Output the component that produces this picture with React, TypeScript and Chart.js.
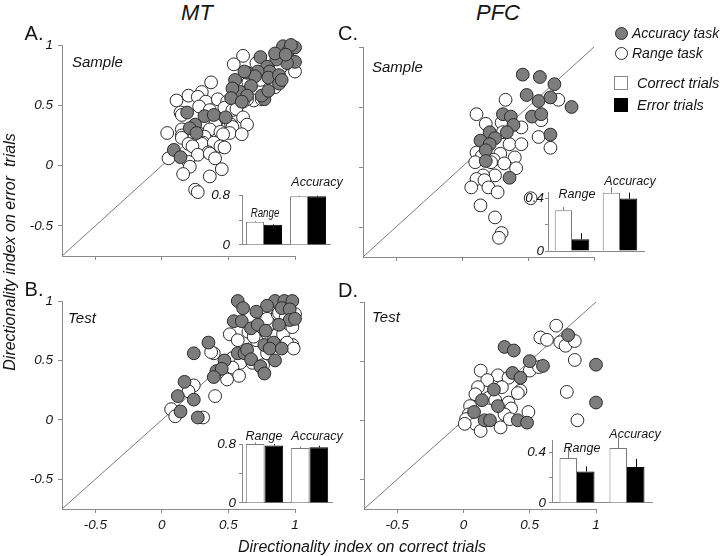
import React, { useEffect, useRef } from "react";
import { Chart, registerables } from "chart.js";

Chart.register(...registerables);

type Pt = [number, number];

// ---------- data ----------
const AXIS_TICKS = [-0.5, 0, 0.5, 1];
const DIAGONAL: Pt[] = [[-0.75, -0.75], [1, 1]];

const A_ACCURACY: Pt[] = [
  [0.74, 0.9], [0.91, 0.99], [0.95, 0.95], [1.0, 0.98], [1.0, 0.86], [0.94, 0.85], [0.86, 0.88],
  [0.79, 0.82], [0.81, 0.78], [0.72, 0.78], [0.64, 0.77], [0.7, 0.74], [0.8, 0.73], [0.88, 0.75],
  [0.88, 0.68], [0.55, 0.71], [0.59, 0.61], [0.53, 0.64], [0.67, 0.66], [0.64, 0.58], [0.52, 0.56],
  [0.6, 0.53], [0.77, 0.55], [0.75, 0.58], [0.8, 0.62], [0.9, 0.71], [0.85, 0.93], [0.97, 1.0],
  [0.93, 0.92], [0.62, 0.78], [0.19, 0.44], [0.32, 0.41], [0.39, 0.42], [0.48, 0.4], [0.25, 0.34],
  [0.21, 0.31], [0.26, 0.27], [0.09, 0.13], [0.14, 0.07],
];
const A_RANGE: Pt[] = [
  [0.61, 0.91], [0.54, 0.84], [0.71, 0.85], [0.91, 0.83], [0.89, 0.81], [1.0, 0.78], [0.74, 0.71],
  [0.65, 0.69], [0.85, 0.65], [0.69, 0.54], [0.75, 0.55], [0.64, 0.55], [0.56, 0.49], [0.37, 0.69],
  [0.3, 0.61], [0.2, 0.58], [0.11, 0.54], [0.27, 0.57], [0.33, 0.53], [0.42, 0.55], [0.49, 0.53],
  [0.61, 0.53], [0.28, 0.49], [0.47, 0.48], [0.53, 0.46], [0.36, 0.46], [0.56, 0.47], [0.14, 0.44],
  [0.15, 0.42], [0.61, 0.4], [0.32, 0.36], [0.41, 0.36], [0.4, 0.34], [0.52, 0.34], [0.53, 0.32],
  [0.64, 0.34], [0.15, 0.3], [0.36, 0.3], [0.44, 0.28], [0.51, 0.27], [0.6, 0.26], [0.04, 0.27],
  [0.15, 0.25], [0.15, 0.23], [0.32, 0.24], [0.46, 0.26], [0.31, 0.19], [0.2, 0.18], [0.3, 0.18],
  [0.39, 0.19], [0.23, 0.16], [0.44, 0.16], [0.47, 0.15], [0.35, 0.11], [0.27, 0.09], [0.36, 0.1],
  [0.4, 0.06], [0.05, 0.06], [0.2, 0.03], [0.21, -0.01], [0.16, -0.07], [0.36, -0.09], [0.45, -0.03],
  [0.25, -0.2], [0.27, -0.22],
];

const B_ACCURACY: Pt[] = [
  [0.57, 1.0], [0.61, 0.94], [0.85, 1.0], [0.92, 1.0], [0.98, 1.0], [0.79, 0.96], [0.71, 0.91],
  [0.9, 0.94], [0.96, 0.93], [0.96, 0.84], [1.0, 0.85], [0.54, 0.83], [0.6, 0.83], [0.67, 0.77],
  [0.72, 0.8], [0.78, 0.75], [0.88, 0.8], [0.35, 0.65], [0.24, 0.56], [0.57, 0.56], [0.62, 0.56],
  [0.64, 0.59], [0.77, 0.63], [0.84, 0.65], [0.81, 0.6], [0.9, 0.6], [0.67, 0.51], [0.85, 0.5],
  [0.74, 0.45], [0.77, 0.39], [0.47, 0.5], [0.41, 0.41], [0.45, 0.43], [0.39, 0.36], [0.17, 0.32],
  [0.12, 0.2], [0.24, 0.17], [0.14, 0.07], [0.27, 0.02],
];
const B_RANGE: Pt[] = [
  [0.51, 0.72], [0.57, 0.67], [0.39, 0.56], [0.37, 0.57], [0.53, 0.52], [0.59, 0.48], [0.52, 0.42],
  [0.53, 0.44], [0.58, 0.37], [0.49, 0.34], [0.42, 0.4], [0.76, 0.46], [0.68, 0.48], [0.79, 0.56],
  [0.75, 0.7], [0.71, 0.67], [0.7, 0.75], [0.86, 0.71], [0.91, 0.72], [0.81, 0.81], [0.79, 0.85],
  [0.87, 0.89], [1.0, 0.89], [0.95, 0.81], [0.65, 0.74], [0.69, 0.7], [0.98, 0.78], [0.98, 0.63],
  [0.94, 0.65], [0.99, 0.6], [0.96, 0.98], [0.88, 0.9], [0.93, 0.86], [0.24, 0.29], [0.2, 0.24],
  [0.4, 0.2], [0.07, 0.09], [0.1, 0.03], [0.31, 0.02],
];

const C_ACCURACY: Pt[] = [
  [0.46, 0.77], [0.59, 0.75], [0.7, 0.69], [0.49, 0.6], [0.58, 0.55], [0.67, 0.58], [0.83, 0.5],
  [0.31, 0.44], [0.37, 0.42], [0.53, 0.42], [0.6, 0.44], [0.39, 0.35], [0.34, 0.29], [0.21, 0.29],
  [0.25, 0.24], [0.14, 0.22], [0.21, 0.19], [0.18, 0.14], [0.18, 0.05], [0.67, 0.27], [0.36, -0.09],
];
const C_RANGE: Pt[] = [
  [0.33, 0.56], [0.73, 0.56], [0.11, 0.44], [0.18, 0.36], [0.3, 0.37], [0.45, 0.33], [0.6, 0.39],
  [0.58, 0.25], [0.67, 0.16], [0.31, 0.29], [0.36, 0.19], [0.45, 0.19], [0.29, 0.11], [0.4, 0.08],
  [0.11, 0.12], [0.15, 0.09], [0.24, 0.06], [0.1, 0.04], [0.22, 0.04], [0.32, 0.03], [0.41, -0.01],
  [0.25, -0.07], [0.16, -0.07], [0.11, -0.1], [0.17, -0.11], [0.07, -0.17], [0.2, -0.17],
  [0.27, -0.21], [0.14, -0.32], [0.25, -0.42], [0.3, -0.55], [0.28, -0.59], [0.52, -0.26],
];

const D_ACCURACY: Pt[] = [
  [0.31, 0.62], [0.38, 0.59], [0.79, 0.72], [0.5, 0.5], [0.6, 0.46], [0.37, 0.4], [0.43, 0.36],
  [1.0, 0.47], [0.23, 0.26], [0.14, 0.17], [0.26, 0.12], [1.0, 0.15], [0.08, 0.07], [0.16, 0.0],
  [0.2, 0.0], [0.41, 0.0], [0.48, -0.02],
];
const D_RANGE: Pt[] = [
  [0.7, 0.8], [0.58, 0.7], [0.63, 0.68], [0.73, 0.66], [0.77, 0.63], [0.84, 0.67], [0.84, 0.51],
  [0.78, 0.24], [0.86, 0.0], [0.13, 0.42], [0.26, 0.38], [0.34, 0.36], [0.5, 0.42], [0.57, 0.45],
  [0.18, 0.34], [0.11, 0.28], [0.29, 0.28], [0.43, 0.25], [0.41, 0.23], [0.09, 0.22], [0.19, 0.19],
  [0.24, 0.17], [0.34, 0.15], [0.36, 0.1], [0.05, 0.12], [0.31, 0.05], [0.49, 0.07], [0.04, 0.05],
  [0.02, 0.01], [0.09, -0.03], [0.01, -0.03], [0.13, -0.09], [0.28, -0.06], [0.35, 0.01],
];

const INSET_CATEGORIES = ["Range", "Accuracy"];
const A_CORRECT = [0.37, 0.78];
const A_CORRECT_SEM = [0.015, 0.012];
const A_ERROR = [0.325, 0.78];
const A_ERROR_SEM = [0.012, 0.012];
const A_INSET_TICKS = [0, 0.4, 0.8];
const A_INSET_LABELS = [0, 0.8];

const B_CORRECT = [0.8, 0.745];
const B_CORRECT_SEM = [0.02, 0.02];
const B_ERROR = [0.78, 0.755];
const B_ERROR_SEM = [0.02, 0.02];
const B_INSET_TICKS = [0, 0.4, 0.8];
const B_INSET_LABELS = [0, 0.8];

const C_CORRECT = [0.31, 0.445];
const C_CORRECT_SEM = [0.025, 0.04];
const C_ERROR = [0.09, 0.4];
const C_ERROR_SEM = [0.045, 0.045];
const C_INSET_TICKS = [0, 0.2, 0.4];
const C_INSET_LABELS = [0, 0.4];

const D_CORRECT = [0.357, 0.437];
const D_CORRECT_SEM = [0.09, 0.08];
const D_ERROR = [0.25, 0.285];
const D_ERROR_SEM = [0.04, 0.065];
const D_INSET_TICKS = [0, 0.2, 0.4];
const D_INSET_LABELS = [0, 0.4];

// ---------- styles ----------
const FONT = '"Liberation Sans", Arial, Helvetica, sans-serif';
const AXIS_COLOR = "#8a8a8a";
const TEXT_COLOR = "#151515";
const GRAY_FILL = "#7d7d7d";
const POINT_BORDER = "#2a2a2a";

type Box = { left: number; top: number; width: number; height: number };
type Area = { l: number; r: number; t: number; b: number };

function ScatterPanel(props: {
  box: Box; area: Area; acc: Pt[]; rng: Pt[]; showY: boolean; showX: boolean;
}) {
  const ref = useRef<HTMLCanvasElement>(null);
  useEffect(() => {
    const { box, area, acc, rng, showY, showX } = props;
    const yW = area.l - box.left;
    const xH = showX ? 30 : 6;
    const padTop = area.t - box.top;
    const padRight = box.left + box.width - area.r;
    const padBottom = box.top + box.height - area.b - xH;
    const toXY = (p: Pt) => ({ x: p[0], y: p[1] });
    const tickFont = { family: FONT, size: 13.5, style: "italic" as const };
    const chart = new Chart(ref.current as HTMLCanvasElement, {
      type: "scatter",
      data: {
        datasets: [
          {
            data: DIAGONAL.map(toXY), showLine: true, borderColor: "#7a7a7a", borderWidth: 1,
            pointRadius: 0, order: 3, clip: false as any,
          },
          {
            data: rng.map(toXY), backgroundColor: "#ffffff", borderColor: POINT_BORDER,
            borderWidth: 1, pointRadius: 6.4, order: 2, clip: false as any,
          },
          {
            data: acc.map(toXY), backgroundColor: GRAY_FILL, borderColor: POINT_BORDER,
            borderWidth: 1, pointRadius: 6.4, order: 1, clip: false as any,
          },
        ],
      },
      options: {
        animation: false,
        responsive: false,
        devicePixelRatio: 1,
        events: [],
        layout: { padding: { left: 0, top: padTop, right: padRight, bottom: padBottom } },
        plugins: { legend: { display: false }, tooltip: { enabled: false } },
        scales: {
          x: {
            type: "linear", min: -0.75, max: 1,
            afterBuildTicks: (s: any) => { s.ticks = AXIS_TICKS.map((v) => ({ value: v })); },
            afterFit: (s: any) => { s.height = xH; },
            ticks: { display: showX, font: tickFont, color: TEXT_COLOR, padding: 4, maxRotation: 0, callback: (v: any) => String(v) },
            grid: { display: true, drawOnChartArea: false, drawTicks: true, tickLength: 4, color: AXIS_COLOR },
            border: { display: true, color: AXIS_COLOR, width: 1 },
          },
          y: {
            type: "linear", min: -0.75, max: 1,
            afterBuildTicks: (s: any) => { s.ticks = AXIS_TICKS.map((v) => ({ value: v })); },
            afterFit: (s: any) => { s.width = yW; },
            ticks: { display: showY, font: tickFont, color: TEXT_COLOR, padding: 5, callback: (v: any) => String(v) },
            grid: { display: true, drawOnChartArea: false, drawTicks: true, tickLength: 4, color: AXIS_COLOR },
            border: { display: true, color: AXIS_COLOR, width: 1 },
          },
        },
      } as any,
    });
    return () => chart.destroy();
  }, []);
  const { box } = props;
  return (
    <canvas ref={ref} width={box.width} height={box.height}
      style={{ position: "absolute", left: box.left, top: box.top, width: box.width, height: box.height }} />
  );
}

function InsetBars(props: {
  box: Box; area: Area; correct: number[]; correctSem: number[]; error: number[]; errorSem: number[];
  yMax: number; ticks: number[]; labels: number[]; catPct: number; labelPad: number;
}) {
  const ref = useRef<HTMLCanvasElement>(null);
  useEffect(() => {
    const { box, area, correct, correctSem, error, errorSem, yMax, ticks, labels, catPct, labelPad } = props;
    const yW = area.l - box.left;
    const padTop = area.t - box.top;
    const padRight = box.left + box.width - area.r;
    const padBottom = box.top + box.height - area.b;
    const values = [correct, error];
    const sems = [correctSem, errorSem];
    const errPlugin = {
      id: "errbars",
      afterDatasetsDraw(chart: any) {
        const ctx = chart.ctx;
        const ys = chart.scales.y;
        values.forEach((vals, di) => {
          const meta = chart.getDatasetMeta(di);
          meta.data.forEach((bar: any, j: number) => {
            const y0 = ys.getPixelForValue(vals[j]);
            const y1 = ys.getPixelForValue(vals[j] + sems[di][j]);
            const x = Math.round(bar.x) + 0.5;
            ctx.save();
            ctx.strokeStyle = di === 0 ? "#777777" : "#000000";
            ctx.lineWidth = 1;
            ctx.beginPath();
            ctx.moveTo(x, y0);
            ctx.lineTo(x, y1);
            ctx.stroke();
            ctx.restore();
          });
        });
      },
    };
    const chart = new Chart(ref.current as HTMLCanvasElement, {
      type: "bar",
      data: {
        labels: INSET_CATEGORIES,
        datasets: [
          {
            label: "Correct trials", data: correct, backgroundColor: "#ffffff", borderColor: "#7a7a7a",
            borderWidth: 1, barPercentage: 1, categoryPercentage: catPct,
          },
          {
            label: "Error trials", data: error, backgroundColor: "#000000", borderColor: "#000000",
            borderWidth: 1, barPercentage: 1, categoryPercentage: catPct,
          },
        ],
      },
      options: {
        animation: false,
        responsive: false,
        devicePixelRatio: 1,
        events: [],
        layout: { padding: { left: 0, top: padTop, right: padRight, bottom: padBottom } },
        plugins: { legend: { display: false }, tooltip: { enabled: false } },
        scales: {
          x: {
            type: "category",
            afterFit: (s: any) => { s.height = 0; },
            ticks: { display: false },
            grid: { display: false, drawTicks: false },
            border: { display: true, color: AXIS_COLOR, width: 1 },
          },
          y: {
            type: "linear", min: 0, max: yMax,
            afterBuildTicks: (s: any) => { s.ticks = ticks.map((v) => ({ value: v })); },
            afterFit: (s: any) => { s.width = yW; },
            ticks: {
              font: { family: FONT, size: 13.5, style: "italic" }, color: TEXT_COLOR, padding: labelPad,
              callback: (v: any) => (labels.includes(v) ? String(v) : ""),
            },
            grid: { display: true, drawOnChartArea: false, drawTicks: true, tickLength: 3, color: AXIS_COLOR },
            border: { display: true, color: AXIS_COLOR, width: 1 },
          },
        },
      } as any,
      plugins: [errPlugin],
    });
    return () => chart.destroy();
  }, []);
  const { box } = props;
  return (
    <canvas ref={ref} width={box.width} height={box.height}
      style={{ position: "absolute", left: box.left, top: box.top, width: box.width, height: box.height }} />
  );
}

function Txt(props: {
  x: number; y: number; size: number; italic?: boolean; anchor?: "start" | "center";
  rotate?: number; scaleX?: number; children: React.ReactNode;
}) {
  const { x, y, size, italic = true, anchor = "center", rotate = 0, scaleX = 1 } = props;
  const tx = anchor === "center" ? "-50%" : "0";
  return (
    <div
      style={{
        position: "absolute", left: x, top: y,
        transform: `translate(${tx},-50%) rotate(${rotate}deg) scaleX(${scaleX})`,
        transformOrigin: anchor === "center" ? "center" : "left center",
        fontSize: size, fontStyle: italic ? "italic" : "normal", whiteSpace: "pre",
        lineHeight: 1, fontFamily: FONT, color: TEXT_COLOR,
      }}
    >
      {props.children}
    </div>
  );
}

function Marker(props: { x: number; y: number; size: number; fill: string; border: string; round: boolean }) {
  const { x, y, size, fill, border, round } = props;
  return (
    <div
      style={{
        position: "absolute", left: x - size / 2, top: y - size / 2, width: size, height: size,
        boxSizing: "border-box", background: fill, border: `1px solid ${border}`,
        borderRadius: round ? "50%" : 0,
      }}
    />
  );
}

export default function App() {
  return (
    <div style={{ position: "absolute", left: 0, top: 0, width: 720, height: 556, background: "#fff", overflow: "hidden" }}>
      <ScatterPanel box={{ left: 0, top: 30, width: 320, height: 245 }} area={{ l: 62, r: 295, t: 45, b: 256 }}
        acc={A_ACCURACY} rng={A_RANGE} showY={true} showX={false} />
      <ScatterPanel box={{ left: 0, top: 285, width: 320, height: 260 }} area={{ l: 62, r: 295, t: 301, b: 509 }}
        acc={B_ACCURACY} rng={B_RANGE} showY={true} showX={true} />
      <ScatterPanel box={{ left: 340, top: 30, width: 280, height: 245 }} area={{ l: 363, r: 594, t: 47, b: 257 }}
        acc={C_ACCURACY} rng={C_RANGE} showY={false} showX={false} />
      <ScatterPanel box={{ left: 340, top: 285, width: 280, height: 260 }} area={{ l: 364, r: 596, t: 302, b: 509 }}
        acc={D_ACCURACY} rng={D_RANGE} showY={false} showX={true} />

      <InsetBars box={{ left: 200, top: 178, width: 140, height: 84 }} area={{ l: 242, r: 330, t: 192, b: 251 }}
        correct={A_CORRECT} correctSem={A_CORRECT_SEM} error={A_ERROR} errorSem={A_ERROR_SEM}
        yMax={0.8} ticks={A_INSET_TICKS} labels={A_INSET_LABELS} catPct={0.82} labelPad={9} />
      <InsetBars box={{ left: 200, top: 430, width: 140, height: 84 }} area={{ l: 242, r: 332, t: 444, b: 503 }}
        correct={B_CORRECT} correctSem={B_CORRECT_SEM} error={B_ERROR} errorSem={B_ERROR_SEM}
        yMax={0.8} ticks={B_INSET_TICKS} labels={B_INSET_LABELS} catPct={0.83} labelPad={3} />
      <InsetBars box={{ left: 510, top: 178, width: 145, height: 84 }} area={{ l: 548, r: 644, t: 192, b: 251 }}
        correct={C_CORRECT} correctSem={C_CORRECT_SEM} error={C_ERROR} errorSem={C_ERROR_SEM}
        yMax={0.45} ticks={C_INSET_TICKS} labels={C_INSET_LABELS} catPct={0.72} labelPad={1} />
      <InsetBars box={{ left: 510, top: 426, width: 150, height: 88 }} area={{ l: 552, r: 652, t: 440, b: 503 }}
        correct={D_CORRECT} correctSem={D_CORRECT_SEM} error={D_ERROR} errorSem={D_ERROR_SEM}
        yMax={0.5} ticks={D_INSET_TICKS} labels={D_INSET_LABELS} catPct={0.7} labelPad={3} />

      {/* inset labels */}
      <Txt x={265} y={213} size={12.5} scaleX={0.78}>Range</Txt>
      <Txt x={317} y={182} size={12.5}>Accuracy</Txt>
      <Txt x={264} y={436} size={12.5}>Range</Txt>
      <Txt x={317} y={436} size={12.5}>Accuracy</Txt>
      <Txt x={577} y={194} size={12.5}>Range</Txt>
      <Txt x={630} y={181} size={12.5}>Accuracy</Txt>
      <Txt x={582} y={448} size={12.5}>Range</Txt>
      <Txt x={635} y={434} size={12.5}>Accuracy</Txt>

      {/* headers */}
      <Txt x={197} y={13} size={22}>MT</Txt>
      <Txt x={498} y={13} size={22}>PFC</Txt>
      <Txt x={34} y={33} size={20} italic={false}>A.</Txt>
      <Txt x={34} y={289} size={20} italic={false}>B.</Txt>
      <Txt x={348} y={33} size={20} italic={false}>C.</Txt>
      <Txt x={348} y={290} size={20} italic={false}>D.</Txt>

      <Txt x={72} y={61} size={15} anchor="start">Sample</Txt>
      <Txt x={68} y={317} size={15} anchor="start">Test</Txt>
      <Txt x={372} y={66} size={15} anchor="start">Sample</Txt>
      <Txt x={372} y={316} size={15} anchor="start">Test</Txt>

      {/* legend */}
      <Marker x={621} y={33} size={13} fill={GRAY_FILL} border={POINT_BORDER} round={true} />
      <Txt x={632} y={33} size={14} anchor="start">Accuracy task</Txt>
      <Marker x={621} y={53} size={13} fill="#ffffff" border={POINT_BORDER} round={true} />
      <Txt x={632} y={53} size={14} anchor="start">Range task</Txt>
      <Marker x={621} y={83} size={14} fill="#ffffff" border="#8a8a8a" round={false} />
      <Txt x={637} y={83} size={14.5} anchor="start">Correct trials</Txt>
      <Marker x={621} y={105} size={14} fill="#000000" border="#000000" round={false} />
      <Txt x={637} y={105} size={14.5} anchor="start">Error trials</Txt>

      {/* axis titles */}
      <Txt x={10} y={252} size={16} rotate={-90}>{"Directionality index on error  trials"}</Txt>
      <Txt x={362} y={547} size={16}>Directionality index on correct trials</Txt>
    </div>
  );
}
